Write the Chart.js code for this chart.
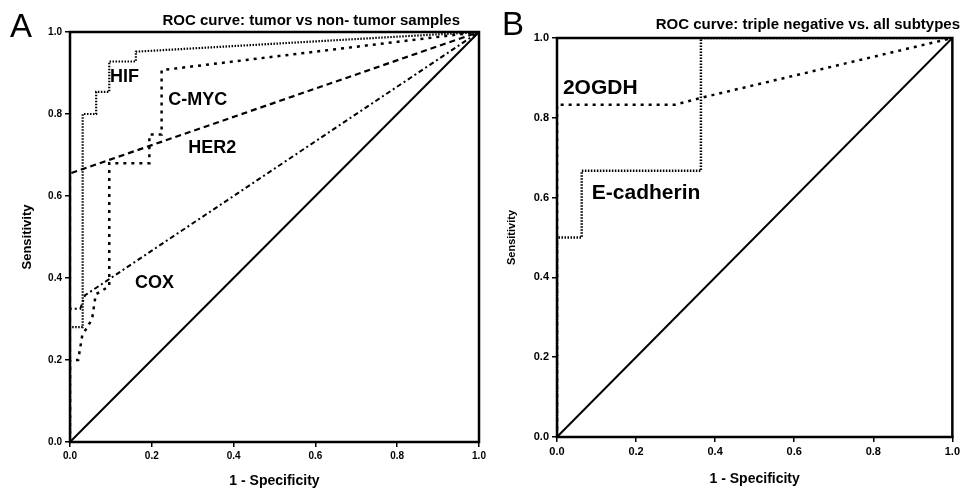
<!DOCTYPE html>
<html>
<head>
<meta charset="utf-8">
<script src="https://cdn.jsdelivr.net/npm/chart.js@4"></script>
<style>
  html, body { margin: 0; padding: 0; background: #fff; }
  #wrapA { position: absolute; left: 0; top: 0; width: 490px; height: 490px; }
  #wrapB { position: absolute; left: 490px; top: 0; width: 473px; height: 490px; }
</style>
</head>
<body>
<div id="wrapA"><canvas id="rocA"></canvas></div>
<div id="wrapB"><canvas id="rocB"></canvas></div>
<script>
// Panel A: tumor vs non-tumor samples (1 - specificity / sensitivity)
const hifX  = [0, 0, 0.031, 0.031, 0.064, 0.064, 0.096, 0.096, 0.161, 0.161, 1];
const hifY  = [0, 0.28, 0.28, 0.8, 0.8, 0.854, 0.854, 0.928, 0.928, 0.952, 1];
const cmycX = [0, 0, 0.02, 0.03, 0.054, 0.063, 0.096, 0.096, 0.194, 0.194, 0.224, 0.224, 1];
const cmycY = [0, 0.2, 0.2, 0.26, 0.30, 0.36, 0.38, 0.68, 0.68, 0.75, 0.75, 0.907, 1];
const her2X = [0, 0, 1];
const her2Y = [0, 0.655, 1];
const coxX  = [0, 0, 0.025, 0.037, 1];
const coxY  = [0, 0.325, 0.325, 0.358, 1];

// Panel B: triple negative vs. all subtypes
const ogdhX = [0, 0, 0.3, 0.364, 1];
const ogdhY = [0, 0.833, 0.833, 0.85, 1];
const ecadX = [0, 0, 0.0625, 0.0625, 0.364, 0.364, 1];
const ecadY = [0, 0.5, 0.5, 0.667, 0.667, 1, 1];

const refX = [0, 1];
const refY = [0, 1];

const tickValues = [0, 0.2, 0.4, 0.6, 0.8, 1.0];

const FONT = "'Liberation Sans', Arial, sans-serif";

const toPoints = (xs, ys) => xs.map((x, i) => ({ x: x, y: ys[i] }));

const line = (label, xs, ys, dash, width) => ({
  label: label,
  data: toPoints(xs, ys),
  borderColor: "#000",
  borderWidth: width,
  borderDash: dash,
  pointRadius: 0,
  tension: 0,
  fill: false,
  clip: 0,
});

// frame, panel letter, header and curve names
const decorations = {
  id: "decorations",
  afterDatasetsDraw(chart, args, opts) {
    const { ctx, chartArea, scales } = chart;
    ctx.save();
    ctx.strokeStyle = "#000";
    ctx.lineWidth = 2.5;
    ctx.strokeRect(chartArea.left, chartArea.top, chartArea.right - chartArea.left, chartArea.bottom - chartArea.top);

    ctx.fillStyle = "#000";
    ctx.textBaseline = "middle";
    ctx.textAlign = "left";
    ctx.font = "bold " + opts.labelSize + "px " + FONT;
    opts.labels.forEach((l) => {
      ctx.fillText(l.text, scales.x.getPixelForValue(l.x), scales.y.getPixelForValue(l.y));
    });

    ctx.textBaseline = "alphabetic";
    ctx.font = opts.letterSize + "px " + FONT;
    ctx.fillText(opts.letter, opts.letterPos[0], opts.letterPos[1]);

    ctx.textAlign = "right";
    ctx.font = "bold " + opts.headerSize + "px " + FONT;
    ctx.fillText(opts.header, opts.headerPos[0], opts.headerPos[1]);
    ctx.restore();
  },
};

function axes(tickSize, yTitle, xTitle, yPad, xPad, yWidth, xHeight) {
  const common = {
    type: "linear",
    min: 0,
    max: 1,
    border: { display: true, color: "#000", width: 2 },
    grid: { display: true, drawOnChartArea: false, drawTicks: true, tickLength: 5, color: "#000", lineWidth: 1.5 },
    afterBuildTicks: (s) => { s.ticks = tickValues.map((v) => ({ value: v })); },
  };
  return {
    x: Object.assign({}, common, {
      ticks: { color: "#000", font: { family: FONT, size: tickSize, weight: "bold" }, padding: 3, maxRotation: 0,
               callback: (v) => v.toFixed(1) },
      title: { display: true, text: "1 - Specificity", color: "#000", font: { family: FONT, size: xTitle, weight: "bold" },
               padding: { top: 0, bottom: xPad } },
      afterFit: (s) => { s.height = xHeight; },
    }),
    y: Object.assign({}, common, {
      ticks: { color: "#000", font: { family: FONT, size: tickSize, weight: "bold" }, padding: 3,
               callback: (v) => v.toFixed(1) },
      title: { display: true, text: "Sensitivity", color: "#000", font: { family: FONT, size: yTitle, weight: "bold" },
               padding: { top: yPad, bottom: 0 } },
      afterFit: (s) => { s.width = yWidth; },
    }),
  };
}

new Chart(document.getElementById("rocA"), {
  type: "line",
  plugins: [decorations],
  data: {
    datasets: [
      line("HIF", hifX, hifY, [1.5, 1.5], 2.2),
      line("C-MYC", cmycX, cmycY, [3, 5], 2.5),
      line("HER2", her2X, her2Y, [6, 4], 2.2),
      line("COX", coxX, coxY, [5, 3, 2, 3], 2),
      line("Reference", refX, refY, [], 2),
    ],
  },
  options: {
    responsive: true,
    maintainAspectRatio: false,
    animation: false,
    layout: { padding: { left: 0, right: 11, top: 32, bottom: 0 } },
    scales: axes(10, 13, 14, 20, 0, 70, 48),
    plugins: {
      legend: { display: false },
      tooltip: { enabled: false },
      decorations: {
        labels: [
          { text: "HIF", x: 0.098, y: 0.89 },
          { text: "C-MYC", x: 0.24, y: 0.834 },
          { text: "HER2", x: 0.289, y: 0.717 },
          { text: "COX", x: 0.159, y: 0.388 },
        ],
        labelSize: 18,
        letter: "A",
        letterSize: 33,
        letterPos: [10, 37],
        header: "ROC curve: tumor vs non- tumor samples",
        headerSize: 15,
        headerPos: [460, 25],
      },
    },
  },
});

new Chart(document.getElementById("rocB"), {
  type: "line",
  plugins: [decorations],
  data: {
    datasets: [
      line("2OGDH", ogdhX, ogdhY, [3, 5], 2.5),
      line("E-cadherin", ecadX, ecadY, [1.5, 1.5], 2.5),
      line("Reference", refX, refY, [], 2),
    ],
  },
  options: {
    responsive: true,
    maintainAspectRatio: false,
    animation: false,
    layout: { padding: { left: 0, right: 10, top: 38, bottom: 0 } },
    scales: axes(11, 11, 14, 15, 2, 67, 53),
    plugins: {
      legend: { display: false },
      tooltip: { enabled: false },
      decorations: {
        labels: [
          { text: "2OGDH", x: 0.015, y: 0.875 },
          { text: "E-cadherin", x: 0.088, y: 0.611 },
        ],
        labelSize: 21,
        letter: "B",
        letterSize: 33,
        letterPos: [12, 35],
        header: "ROC curve: triple negative vs. all subtypes",
        headerSize: 15,
        headerPos: [470, 29],
      },
    },
  },
});
</script>
</body>
</html>
